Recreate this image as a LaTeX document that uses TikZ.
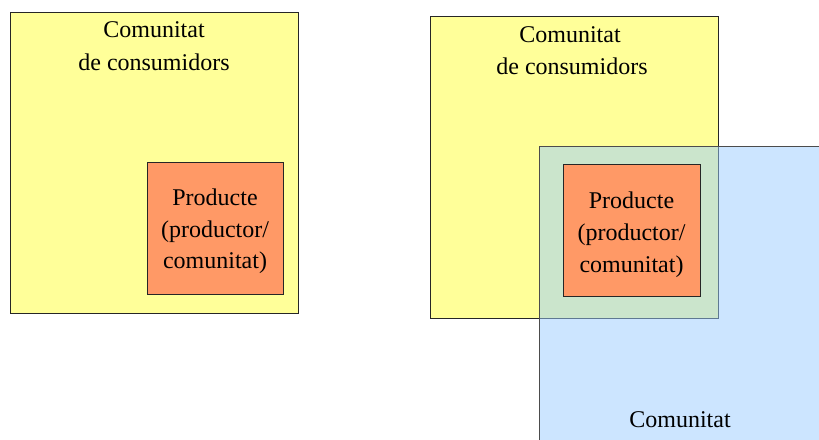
\documentclass[tikz,border=0pt]{standalone}
\usepackage{fontspec}
\setmainfont{Liberation Serif}
\definecolor{consyellow}{HTML}{FFFF99}
\definecolor{prodorange}{HTML}{FF9966}
\definecolor{commblue}{HTML}{99CCFF}
\begin{document}
\begin{tikzpicture}[x=1pt,y=-1pt,
  box/.style={rectangle, draw=black!85, line width=0.8pt, inner sep=0pt, anchor=north west},
  yellowbox/.style={box, fill=consyellow},
  orangebox/.style={box, fill=prodorange},
  bluebox/.style={box, draw=black!70, fill=commblue, fill opacity=0.5},
  lbl/.style={anchor=base, inner sep=0pt, font=\fontsize{24}{30}\selectfont}]
\useasboundingbox (0,0) rectangle (819,439);
\clip (0,0) rectangle (819,439);

% left: product inside the consumer community
\node[yellowbox, minimum width=288pt, minimum height=301pt] (cons1) at (10,12) {};
\node[orangebox, minimum width=136pt, minimum height=132pt] (prod1) at (147,162) {};
\node[lbl] (cons1a) at (154,37.7) {Comunitat};
\node[lbl] (cons1b) at (154,70) {de consumidors};
\node[lbl] (prod1a) at (215,205.7) {Producte};
\node[lbl] (prod1b) at (215,237) {(productor/};
\node[lbl] (prod1c) at (215,268.5) {comunitat)};

% right: consumer community overlapping a second community
\node[yellowbox, minimum width=288pt, minimum height=302pt] (cons2) at (430,16) {};
\node[bluebox, minimum width=282pt, minimum height=300pt] (comm2) at (539,146) {};
\node[orangebox, minimum width=137pt, minimum height=132pt] (prod2) at (563,164) {};
\node[lbl] (cons2a) at (570,42) {Comunitat};
\node[lbl] (cons2b) at (572,74) {de consumidors};
\node[lbl] (prod2a) at (631.5,208) {Producte};
\node[lbl] (prod2b) at (631.5,240.5) {(productor/};
\node[lbl] (prod2c) at (631.5,272) {comunitat)};
\node[lbl] (comm2a) at (680,427) {Comunitat};
\end{tikzpicture}
\end{document}
